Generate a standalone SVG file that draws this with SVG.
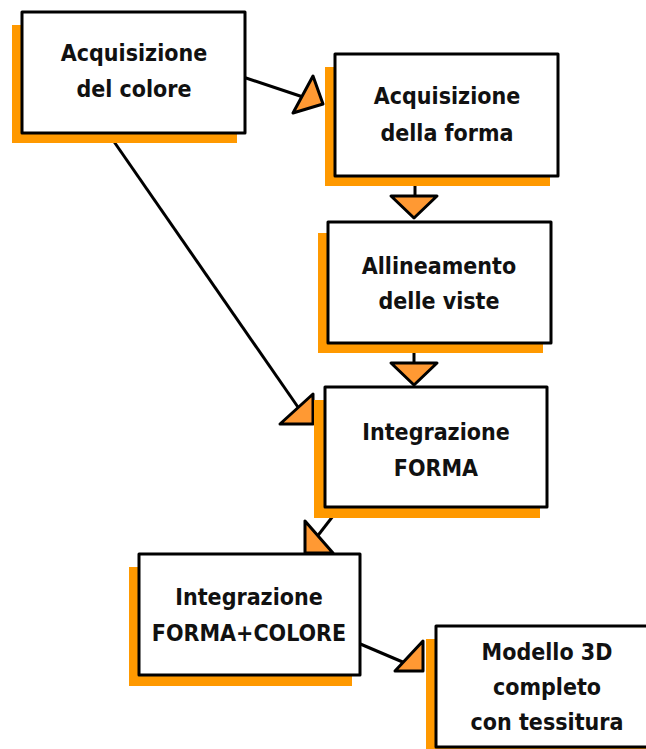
<svg xmlns="http://www.w3.org/2000/svg" width="646" height="749" viewBox="0 0 646 749">
<style>
.shadow{fill:#FF9900}
.box{fill:#FFFFFF;stroke:#000000;stroke-width:3;stroke-linejoin:round}
.lbl{font-family:"DejaVu Sans Condensed","DejaVu Sans",sans-serif;font-stretch:condensed;font-weight:bold;font-size:23px;fill:#111111;text-anchor:middle}
.ln{stroke:#000000;stroke-width:3;fill:none}
.ah{fill:#FF9933;stroke:#000000;stroke-width:3;stroke-linejoin:round}
</style>
<rect width="646" height="749" fill="#FFFFFF"/>
<g id="connectors">
  <line class="ln" x1="240" y1="76" x2="303" y2="97"/>
  <polygon class="ah" points="313,76 323,104 293,113"/>
  <line class="ln" x1="108" y1="133" x2="300" y2="410"/>
  <polygon class="ah" points="313,394 313,424 280,424"/>
  <line class="ln" x1="415" y1="176" x2="415" y2="196"/>
  <polygon class="ah" points="391,196 437,196 414,218"/>
  <line class="ln" x1="414" y1="343" x2="414" y2="363"/>
  <polygon class="ah" points="391,363 437,363 414,385"/>
  <line class="ln" x1="340" y1="507" x2="316" y2="538"/>
  <polygon class="ah" points="305,521 305,553 333,553"/>
  <line class="ln" x1="358" y1="643" x2="405" y2="663"/>
  <polygon class="ah" points="423,641 423,671 395,671"/>
</g>
<g id="n1">
  <rect class="shadow" x="12" y="25" width="225" height="118"/>
  <rect class="box" x="22" y="12" width="223" height="121"/>
  <text class="lbl" x="134" y="61">Acquisizione</text>
  <text class="lbl" x="134" y="97">del colore</text>
</g>
<g id="n2">
  <rect class="shadow" x="325" y="67" width="225" height="119"/>
  <rect class="box" x="335" y="54" width="223" height="122"/>
  <text class="lbl" x="447" y="104">Acquisizione</text>
  <text class="lbl" x="447" y="141">della forma</text>
</g>
<g id="n3">
  <rect class="shadow" x="318" y="233" width="225" height="120"/>
  <rect class="box" x="328" y="222" width="223" height="121"/>
  <text class="lbl" x="439" y="274">Allineamento</text>
  <text class="lbl" x="439" y="309">delle viste</text>
</g>
<g id="n4">
  <rect class="shadow" x="314" y="400" width="226" height="118"/>
  <rect class="box" x="325" y="387" width="222" height="120"/>
  <text class="lbl" x="436" y="440">Integrazione</text>
  <text class="lbl" x="436" y="476">FORMA</text>
</g>
<g id="n5">
  <rect class="shadow" x="129" y="567" width="223" height="119"/>
  <rect class="box" x="139" y="554" width="221" height="121"/>
  <text class="lbl" x="249" y="605">Integrazione</text>
  <text class="lbl" x="249" y="641">FORMA+COLORE</text>
</g>
<g id="n6">
  <rect class="shadow" x="426" y="639" width="225" height="120"/>
  <rect class="box" x="436" y="626" width="222" height="121"/>
  <text class="lbl" x="547" y="660">Modello 3D</text>
  <text class="lbl" x="547" y="695">completo</text>
  <text class="lbl" x="547" y="730">con tessitura</text>
</g>
</svg>
